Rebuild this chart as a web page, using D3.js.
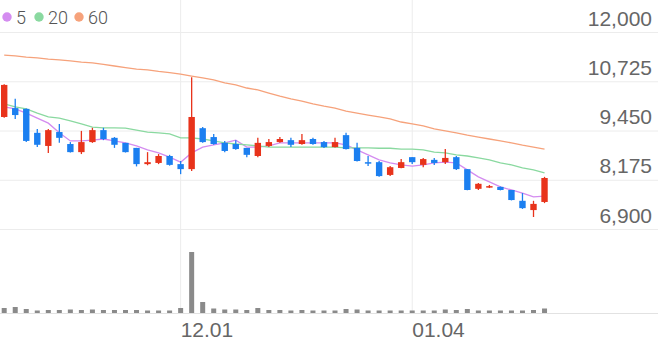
<!DOCTYPE html>
<html>
<head>
<meta charset="utf-8">
<script src="https://d3js.org/d3.v7.min.js"></script>
<style>
    body { margin: 0; background: #fff; }
    svg { display: block; font-family: Roboto, "Noto Sans", sans-serif; }
    .axis text { fill: #666; font-size: 21px; font-weight: 300; }
    .axis .domain { display: none; }
    .legend text { fill: #555; font-size: 18px; font-weight: 300; }
</style>
</head>
<body>
<div id="chart"></div>
<script>
//daily candles, trading days only
const dates = ["11.09", "11.10", "11.11", "11.12", "11.13", "11.16", "11.17", "11.18", "11.19", "11.20",
    "11.23", "11.24", "11.25", "11.26", "11.27", "11.30", "12.01", "12.02", "12.03", "12.04",
    "12.07", "12.08", "12.09", "12.10", "12.11", "12.14", "12.15", "12.16", "12.17", "12.18",
    "12.21", "12.22", "12.23", "12.24", "12.28", "12.29", "12.30", "01.04", "01.05", "01.06",
    "01.07", "01.08", "01.11", "01.12", "01.13", "01.14", "01.15", "01.18", "01.19", "01.20"];

const open = [9800, 10030, 10010, 9390, 9050, 9410, 9100, 8890, 9150, 9460, 9260, 9130, 9000, 8580, 8610, 8790, 8580, 8450, 9510, 9280,
    9130, 9100, 9000, 8790, 9050, 9150, 9200, 9100, 9230, 9150, 9020, 9330, 9000, 8630, 8630, 8300, 8480, 8760, 8560, 8690,
    8630, 8760, 8450, 7940, 7990, 7990, 7910, 7630, 7390, 7600];
const high = [10650, 10270, 10020, 9490, 9490, 9620, 9150, 9440, 9520, 9520, 9280, 9130, 9000, 8890, 8840, 8820, 8660, 10830, 9540, 9360,
    9180, 9200, 9000, 9260, 9230, 9280, 9260, 9360, 9260, 9180, 9260, 9390, 9130, 8790, 8660, 8530, 8710, 8760, 8740, 8740,
    8970, 8790, 8450, 8090, 8040, 8000, 7910, 7830, 7630, 8250];
const low = [9780, 9750, 9150, 9020, 8870, 9130, 8880, 8840, 9130, 9200, 9000, 8880, 8520, 8550, 8580, 8540, 8320, 8400, 9130, 9080,
    8890, 8950, 8760, 8760, 9020, 9130, 9020, 9080, 9080, 9000, 9010, 8960, 8650, 8530, 8250, 8270, 8470, 8580, 8500, 8560,
    8580, 8430, 7900, 7910, 7960, 7900, 7640, 7420, 7210, 7570];
const close = [10630, 9850, 9180, 9080, 9460, 9260, 8890, 9150, 9460, 9230, 9080, 8890, 8580, 8630, 8790, 8560, 8450, 9800, 9150, 9100,
    8920, 8970, 8820, 9130, 9150, 9230, 9080, 9200, 9100, 9020, 9150, 8970, 8660, 8610, 8270, 8500, 8630, 8630, 8710, 8610,
    8740, 8450, 7910, 8070, 8010, 7910, 7650, 7440, 7550, 8220];
const volume = [100000, 120000, 80000, 50000, 60000, 60000, 70000, 60000, 70000, 60000, 60000, 60000, 60000, 50000, 50000, 50000, 100000, 1220000, 220000, 90000,
    70000, 70000, 60000, 100000, 60000, 60000, 50000, 60000, 50000, 50000, 50000, 80000, 70000, 50000, 50000, 50000, 50000, 50000, 50000, 50000,
    70000, 60000, 80000, 50000, 50000, 50000, 50000, 50000, 60000, 90000];

//moving averages as shown on the chart
const ma5 = [10060, 10010, 9900, 9770, 9640, 9390, 9180, 9180, 9200, 9230, 9180, 9130, 9050, 8950, 8870, 8760, 8630, 8870, 9020, 9080,
    9130, 9200, 9020, 9020, 9050, 9130, 9130, 9130, 9130, 9130, 9130, 9080, 8950, 8820, 8690, 8610, 8560, 8530, 8560, 8610,
    8630, 8610, 8430, 8250, 8120, 7990, 7910, 7830, 7730, 7750];
const ma20 = [10140, 10060, 10010, 9900, 9800, 9770, 9700, 9620, 9540, 9520, 9520, 9510, 9460, 9410, 9390, 9360, 9260, 9260, 9230, 9180,
    9130, 9100, 9080, 9050, 9020, 9020, 9020, 9020, 9020, 9020, 9020, 9000, 9000, 9000, 8990, 8990, 8970, 8970, 8950, 8890,
    8870, 8820, 8790, 8740, 8690, 8610, 8560, 8480, 8430, 8350];
const ma60 = [11400, 11380, 11350, 11330, 11300, 11280, 11250, 11220, 11200, 11160, 11120, 11080, 11040, 11020, 10980, 10950, 10910, 10860, 10810, 10760,
    10680, 10630, 10550, 10500, 10420, 10340, 10270, 10210, 10140, 10080, 10030, 9950, 9900, 9850, 9800, 9750, 9670, 9620, 9570, 9490,
    9440, 9390, 9330, 9280, 9230, 9180, 9130, 9070, 9020, 8970];

const priceTicks = [6900, 8175, 9450, 10725, 12000];
const dateTicks = ["12.01", "01.04"];
const maNames = ["5", "20", "60"];

const WIDTH = 658;
const HEIGHT = 342;
const SLOTS = 60; //room left on the right for future days
const UP = "#e8331b";
const DOWN = "#1b7ff0";
const MA_COLORS = ["#d48cf0", "#8ad9a0", "#f6a27b"];

let svg = d3.select("#chart")
    .append("svg")
    .attr("width", WIDTH)
    .attr("height", HEIGHT);

let x = d3.scaleBand()
    .domain(d3.range(SLOTS))
    .range([1, WIDTH])
    .paddingInner(0.42);
const cx = function (i) { return x(i) + x.bandwidth() / 2; };

let y = d3.scaleLinear()
    .domain([6900, 12000])
    .range([229, 32]);

const volBase = 313;
let yv = d3.scaleLinear()
    .domain([0, d3.max(volume)])
    .range([volBase, 252]);

// horizontal grid + price labels
let yAxis = svg.append("g")
    .attr("class", "axis")
    .attr("transform", "translate(" + WIDTH + ",0)")
    .call(d3.axisLeft(y).tickValues(priceTicks).tickSize(WIDTH).tickFormat(d3.format(",")));
yAxis.selectAll("line").attr("stroke", "#ececec");
yAxis.selectAll("text")
    .attr("x", -6)
    .attr("y", -7)
    .attr("dy", null)
    .attr("text-anchor", "end");

// vertical grid + date labels
const tickIdx = dateTicks.map(function (d) { return dates.indexOf(d); });
let xAxis = svg.append("g")
    .attr("class", "axis")
    .call(d3.axisBottom(x).tickValues(tickIdx).tickSize(volBase).tickFormat(function (i) { return dates[i]; }));
xAxis.selectAll("line").attr("stroke", "#ececec");
xAxis.selectAll("text")
    .attr("x", 0)
    .attr("y", 337)
    .attr("dy", null)
    .attr("text-anchor", "start");

svg.append("line")
    .attr("x1", 0).attr("x2", WIDTH)
    .attr("y1", volBase + 0.5).attr("y2", volBase + 0.5)
    .attr("stroke", "#e2e2e2");

// volume
svg.append("g").selectAll("rect")
    .data(volume)
    .enter()
    .append("rect")
    .attr("x", function (d, i) { return cx(i) - 2.5; })
    .attr("y", function (d) { return yv(d); })
    .attr("width", 5)
    .attr("height", function (d) { return volBase - yv(d); })
    .attr("fill", "#8a8a8a");

// moving averages
const maList = [ma5, ma20, ma60];
let line = d3.line()
    .x(function (d, i) { return cx(i); })
    .y(function (d) { return y(d); });
svg.append("g").selectAll("path")
    .data(maList)
    .enter()
    .append("path")
    .attr("d", line)
    .attr("fill", "none")
    .attr("stroke", function (d, i) { return MA_COLORS[i]; })
    .attr("stroke-width", 1.3);

// candles
let candles = svg.append("g").selectAll("g")
    .data(dates)
    .enter()
    .append("g")
    .attr("fill", function (d, i) { return close[i] >= open[i] ? UP : DOWN; })
    .attr("stroke", function (d, i) { return close[i] >= open[i] ? UP : DOWN; });
candles.append("line")
    .attr("x1", function (d, i) { return cx(i); })
    .attr("x2", function (d, i) { return cx(i); })
    .attr("y1", function (d, i) { return y(high[i]); })
    .attr("y2", function (d, i) { return y(low[i]); })
    .attr("stroke-width", 1.3);
candles.append("rect")
    .attr("x", function (d, i) { return x(i); })
    .attr("y", function (d, i) { return y(Math.max(open[i], close[i])); })
    .attr("width", x.bandwidth())
    .attr("height", function (d, i) { return Math.max(1.5, Math.abs(y(open[i]) - y(close[i]))); })
    .attr("stroke", "none");

// legend
const legendX = [7, 39, 79];
let legend = svg.append("g").attr("class", "legend");
maNames.forEach(function (name, i) {
    legend.append("circle")
        .attr("cx", legendX[i])
        .attr("cy", 17)
        .attr("r", 4.7)
        .attr("fill", MA_COLORS[i]);
    legend.append("text")
        .attr("x", legendX[i] + 9)
        .attr("y", 23.5)
        .text(name);
});
</script>
</body>
</html>
